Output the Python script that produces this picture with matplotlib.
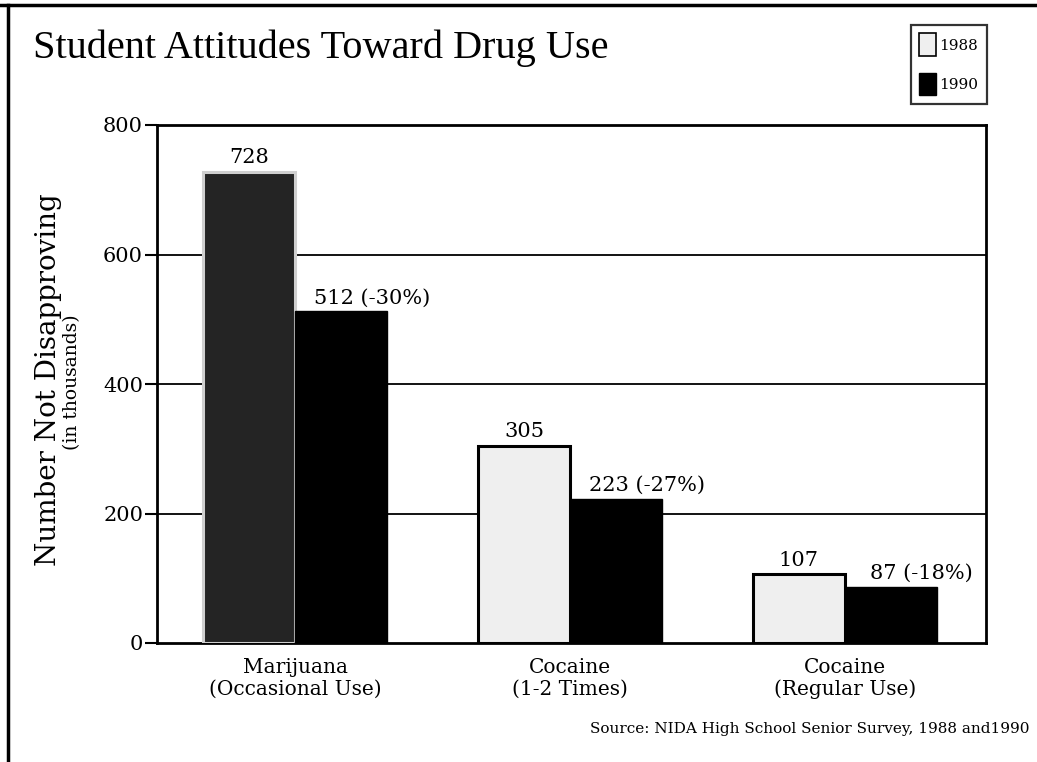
import matplotlib
matplotlib.use("Agg")
import matplotlib.pyplot as plt
import numpy as np
from matplotlib.lines import Line2D
from matplotlib.patches import Patch

# Data
categories = ["Marijuana\n(Occasional Use)", "Cocaine\n(1-2 Times)", "Cocaine\n(Regular Use)"]
years = ["1988", "1990"]
values_1988 = [728, 305, 107]
values_1990 = [512, 223, 87]
pct_change = ["-30%", "-27%", "-18%"]
yticks = [0, 200, 400, 600, 800]

W, H = 1037, 762
fig = plt.figure(figsize=(W / 100, H / 100), dpi=100)
fig.patch.set_facecolor("white")

# Axes placed in pixel terms
left_px, right_px, top_px, bot_px = 157, 986, 125, 643
ax = fig.add_axes([left_px / W, 1 - bot_px / H, (right_px - left_px) / W, (bot_px - top_px) / H])

serif = "DejaVu Serif"
x = np.arange(len(categories))
bw = 0.335

fill_1988 = ["#242424", "#efefef", "#efefef"]
edge_1988 = ["#cfcfcf", "black", "black"]

for xi, v, fc, ec in zip(x, values_1988, fill_1988, edge_1988):
    ax.bar(xi - bw / 2, v, width=bw, color=fc, edgecolor=ec, linewidth=2.2, zorder=3)
ax.bar(x + bw / 2, values_1990, width=bw, color="black", edgecolor="black", linewidth=1.0, zorder=3)

# Value labels
for xi, v in zip(x, values_1988):
    ax.annotate(str(v), (xi - bw / 2, v), xytext=(0, 3), textcoords="offset points",
                ha="center", va="bottom", fontsize=15, family=serif)
for xi, v, p in zip(x, values_1990, pct_change):
    ax.annotate(f"{v} ({p})", (xi + bw / 2, v), xytext=(22, 3), textcoords="offset points",
                ha="center", va="bottom", fontsize=15, family=serif)

ax.set_xlim(-0.502, 2.513)
ax.set_ylim(0, 800)
ax.set_yticks(yticks)
ax.set_yticklabels([str(t) for t in yticks], family=serif, fontsize=15)
ax.tick_params(axis="y", direction="out", length=9, width=1.5, pad=1)
ax.set_xticks([])

for y in yticks[1:-1]:
    ax.axhline(y, color="black", lw=1.3, zorder=1)

for s in ["left", "bottom", "right", "top"]:
    ax.spines[s].set_linewidth(2.0)
    ax.spines[s].set_color("black")

# Category labels below the axis
for xi, c in zip(x, categories):
    ax.annotate(c, (xi, 0), xytext=(0, -11), textcoords="offset points",
                ha="center", va="top", fontsize=14.5, family=serif,
                linespacing=1.15, annotation_clip=False)

# Y-axis titles
fig.text(49 / W, 1 - 380 / H, "Number Not Disapproving", rotation=90, ha="center", va="center",
         fontsize=20, family=serif)
fig.text(72 / W, 1 - 382 / H, "(in thousands)", rotation=90, ha="center", va="center",
         fontsize=13.5, family=serif)

# Title
fig.text(33 / W, 1 - 48 / H, "Student Attitudes Toward Drug Use", ha="left", va="center",
         fontsize=29, family="Liberation Serif")

# Source note
fig.text(1029 / W, 1 - 729 / H, "Source: NIDA High School Senior Survey, 1988 and1990",
         ha="right", va="center", fontsize=11, family=serif)

# Legend
handles = [Patch(facecolor="#efefef", edgecolor="black", linewidth=1.2),
           Patch(facecolor="black", edgecolor="black")]
leg = fig.legend(handles, years, loc="upper right", bbox_to_anchor=(987 / W, 1 - 25 / H),
                 prop={"family": serif, "size": 11}, frameon=True, fancybox=False,
                 handlelength=1.1, handleheight=1.9, handletextpad=0.25,
                 labelspacing=1.1, borderpad=0.55, borderaxespad=0)
leg.get_frame().set_edgecolor("black")
leg.get_frame().set_linewidth(1.6)

# Page frame lines (top and left)
fig.add_artist(Line2D([0, 1], [1 - 5 / H, 1 - 5 / H], color="black", lw=2.5, transform=fig.transFigure))
fig.add_artist(Line2D([8 / W, 8 / W], [0, 1 - 5 / H], color="black", lw=2.5, transform=fig.transFigure))

fig.savefig("out.png", dpi=100, facecolor="white")
